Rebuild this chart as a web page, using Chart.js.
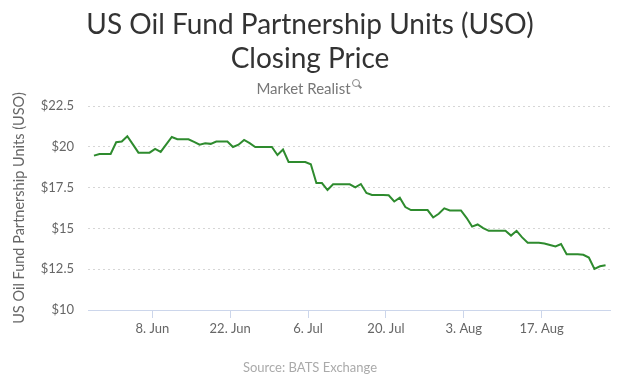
<!DOCTYPE html>
<html>
<head>
<meta charset="utf-8">
<script src="https://cdn.jsdelivr.net/npm/chart.js@4.4.0/dist/chart.umd.min.js"></script>
<style>
    body { margin: 0; background: #fff; font-family: Lato, 'Open Sans', sans-serif; }
    #wrap { position: relative; width: 620px; height: 376px; overflow: hidden; }
    #wrap canvas { position: absolute; left: 0; top: 0; }
    .label { position: absolute; left: 0; width: 620px; text-align: center; pointer-events: none; }
    #title { top: 6px; font-size: 28px; line-height: 34px; color: #333; }
    #brand { top: 79px; left: -2px; font-size: 15px; color: #777; }
    .lens { display: inline-block; position: relative; width: 6px; height: 6px; border: 1.5px solid #888;
            border-radius: 50%; margin-left: 1px; top: -7px; }
    .lens::after { content: ''; position: absolute; width: 1.5px; height: 4px; background: #888;
                   left: 6px; top: 5px; transform: rotate(-45deg); }
    #source { top: 359px; font-size: 13px; color: #aaa; }
</style>
</head>
<body>
<div id="wrap">
    <canvas id="uso-chart"></canvas>
    <div class="label" id="title">US Oil Fund Partnership Units (USO)<br>Closing Price</div>
    <div class="label" id="brand">Market Realist<span class="lens"></span></div>
    <div class="label" id="source">Source: BATS Exchange</div>
</div>
<script>
// daily closing price, one value per calendar day from startDate (weekends hold Friday's close)
const startDate = '2015-05-28';
const closingPrices = [
    19.46, 19.56, 19.56, 19.56,                          // May 28 - May 31
    20.28, 20.32, 20.65, 20.15, 19.64, 19.64, 19.64,     // Jun 1 - Jun 7
    19.87, 19.69, 20.15, 20.60, 20.46, 20.46, 20.46,     // Jun 8 - Jun 14
    20.30, 20.13, 20.21, 20.18, 20.32, 20.32, 20.32,     // Jun 15 - Jun 21
    19.99, 20.13, 20.42, 20.22, 19.99, 19.99, 19.99,     // Jun 22 - Jun 28
    19.99, 19.50, 19.83, 19.07, 19.07, 19.07, 19.07,     // Jun 29 - Jul 5
    18.93, 17.78, 17.78, 17.35, 17.70, 17.70, 17.70,     // Jul 6 - Jul 12
    17.70, 17.51, 17.72, 17.17, 17.05, 17.05, 17.05,     // Jul 13 - Jul 19
    17.03, 16.65, 16.88, 16.31, 16.12, 16.12, 16.12,     // Jul 20 - Jul 26
    16.12, 15.67, 15.90, 16.23, 16.10, 16.10, 16.10,     // Jul 27 - Aug 2
    15.65, 15.11, 15.24, 15.02, 14.85, 14.85, 14.85,     // Aug 3 - Aug 9
    14.85, 14.56, 14.85, 14.45, 14.12, 14.12, 14.12,     // Aug 10 - Aug 16
    14.07, 13.98, 13.89, 14.04, 13.42, 13.42, 13.42,     // Aug 17 - Aug 23
    13.38, 13.21, 12.52, 12.68, 12.74                    // Aug 24 - Aug 28
];
const tickDates = ['2015-06-08', '2015-06-22', '2015-07-06', '2015-07-20', '2015-08-03', '2015-08-17'];
const tickLabels = ['8. Jun', '22. Jun', '6. Jul', '20. Jul', '3. Aug', '17. Aug'];
const priceTicks = [10, 12.5, 15, 17.5, 20, 22.5];

const DAY_MS = 86400000;

function dayNumber(iso) {
    const [y, m, d] = iso.split('-').map(Number);
    return Date.UTC(y, m - 1, d) / DAY_MS;
}

const firstDay = dayNumber(startDate);
// closes are stamped at midday of their date
const points = closingPrices.map((price, i) => ({ x: firstDay + i + 0.5, y: price }));

const font = { family: 'Lato', size: 13 };

new Chart(document.getElementById('uso-chart'), {
    type: 'line',
    data: {
        datasets: [{
            data: points,
            borderColor: '#2e8b2e',
            borderWidth: 2,
            pointRadius: 0,
            tension: 0,
            fill: false
        }]
    },
    options: {
        responsive: true,
        maintainAspectRatio: false,
        animation: false,
        layout: { padding: { top: 106, right: 10, bottom: 26, left: 0 } },
        plugins: {
            legend: { display: false },
            tooltip: { enabled: false }
        },
        scales: {
            x: {
                type: 'linear',
                min: dayNumber('2015-05-27') + 0.43,
                max: dayNumber('2015-08-29') + 0.3,
                afterBuildTicks: scale => {
                    scale.ticks = tickDates.map(d => ({ value: dayNumber(d) }));
                },
                afterFit: scale => { scale.height = 40; },
                grid: { drawOnChartArea: false, drawTicks: true, tickLength: 8, color: '#ccd6eb' },
                border: { color: '#ccd6eb' },
                ticks: {
                    padding: 3,
                    color: '#666',
                    font: font,
                    maxRotation: 0,
                    autoSkip: false,
                    callback: (value, index) => tickLabels[index]
                }
            },
            y: {
                min: 10,
                max: 22.5,
                afterBuildTicks: scale => {
                    scale.ticks = priceTicks.map(v => ({ value: v }));
                },
                afterFit: scale => { scale.width = 88; },
                grid: { color: '#d6d6d6', drawTicks: false },
                border: { display: false, dash: [2, 3] },
                ticks: {
                    padding: 14,
                    color: '#666',
                    font: font,
                    callback: value => '$' + value
                },
                title: {
                    display: true,
                    text: 'US Oil Fund Partnership Units (USO)',
                    color: '#666',
                    font: { family: 'Lato', size: 14.5 },
                    padding: { top: 11, bottom: 0 }
                }
            }
        }
    }
});
</script>
</body>
</html>
